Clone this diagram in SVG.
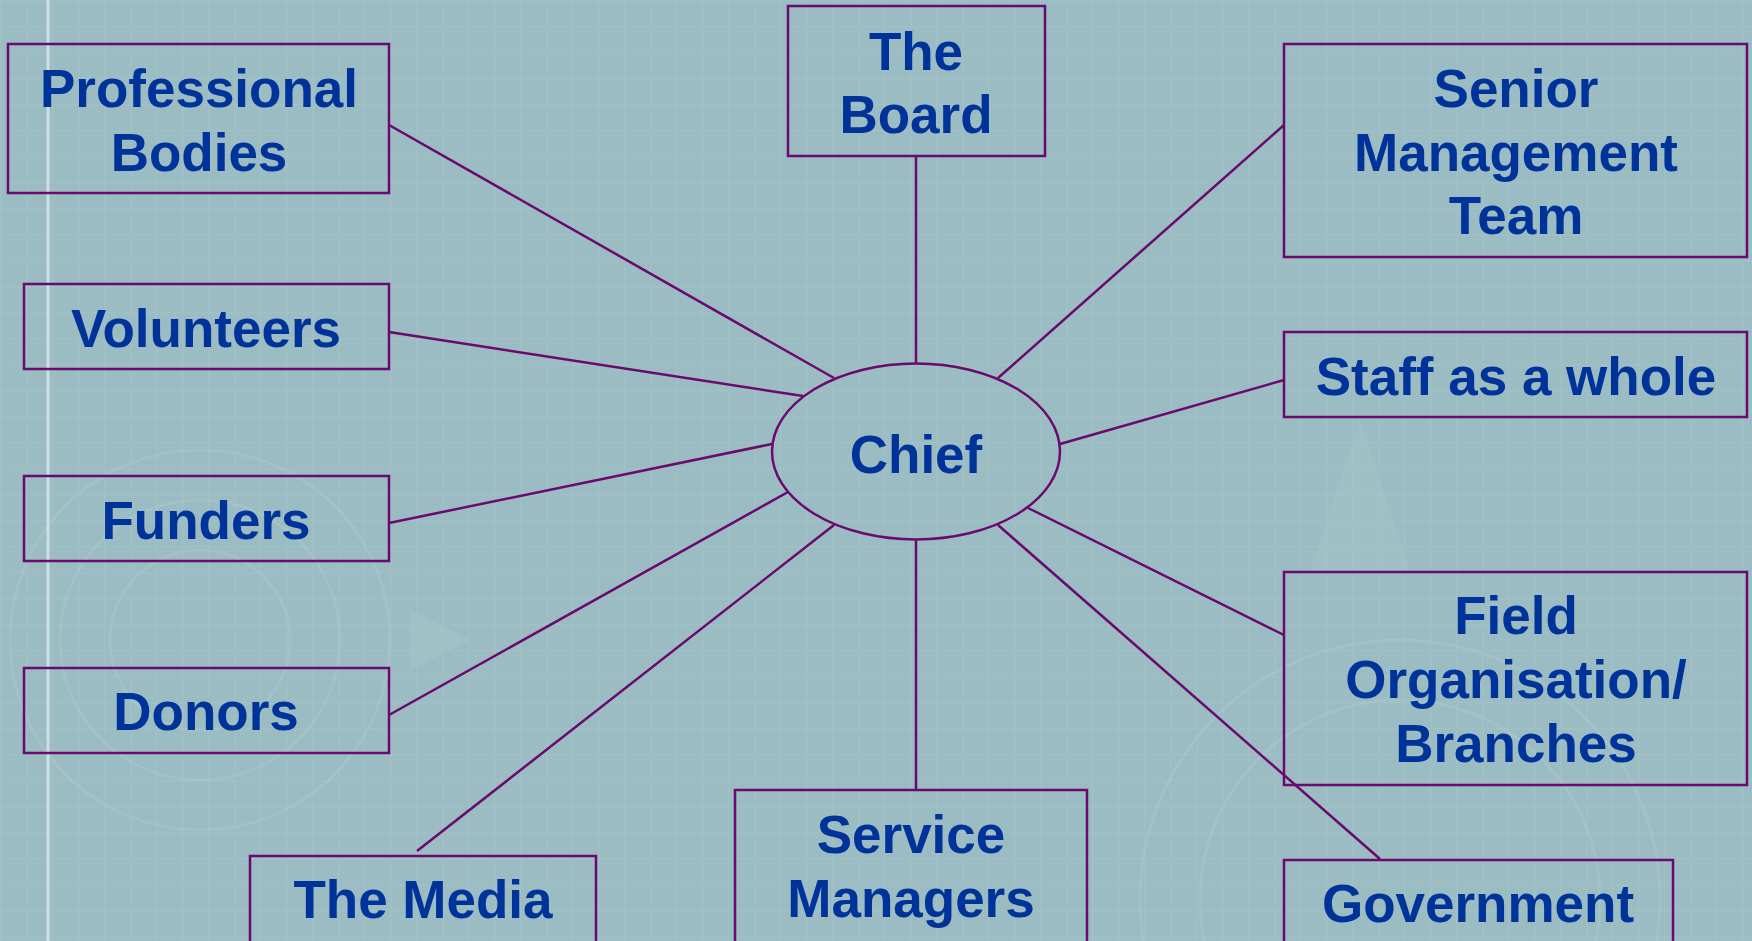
<svg xmlns="http://www.w3.org/2000/svg" width="1752" height="941" viewBox="0 0 1752 941">
<defs>
<pattern id="grid" width="26" height="26" patternUnits="userSpaceOnUse">
<rect width="26" height="26" fill="none"/>
<path d="M0 0.5H26M0.5 0V26" stroke="#b4d0d6" stroke-width="2" opacity="0.2"/>
</pattern>
<style>
.box{fill:none;stroke:#6a0a6e;stroke-width:2.5}
.lnk{stroke:#6a0a6e;stroke-width:2.5;fill:none}
.t{font-family:"Liberation Sans",Arial,sans-serif;font-weight:bold;font-size:53px;fill:#003399;text-anchor:middle}
.deco{fill:none;stroke:#b2cfd4;stroke-width:3;opacity:0.3}
</style>
</defs>
<rect width="1752" height="941" fill="#9bbcc2"/>
<rect width="1752" height="941" fill="url(#grid)"/>
<g id="background-decoration">
<circle class="deco" cx="200" cy="640" r="190"/>
<circle class="deco" cx="200" cy="640" r="140"/>
<circle class="deco" cx="200" cy="640" r="90"/>
<circle class="deco" cx="1400" cy="900" r="260"/>
<circle class="deco" cx="1400" cy="900" r="200"/>
<polygon points="1360,420 1410,570 1310,570" fill="#a7c6cc" opacity="0.4"/>
<polygon points="410,610 470,640 410,670" fill="#a9c8ce" opacity="0.4"/>
<line x1="48" y1="0" x2="48" y2="941" stroke="#dbeaec" stroke-width="3" opacity="0.8"/>
</g>
<g id="connectors">
<line class="lnk" x1="916" y1="156" x2="916" y2="363"/>
<line class="lnk" x1="916" y1="540" x2="916" y2="790"/>
<line class="lnk" x1="389" y1="125" x2="834" y2="378"/>
<line class="lnk" x1="389" y1="332" x2="803" y2="396"/>
<line class="lnk" x1="389" y1="523" x2="772" y2="444"/>
<line class="lnk" x1="389" y1="715" x2="788" y2="492"/>
<line class="lnk" x1="417" y1="851" x2="834" y2="525"/>
<line class="lnk" x1="1284" y1="125" x2="998" y2="378"/>
<line class="lnk" x1="1284" y1="380" x2="1060" y2="444"/>
<line class="lnk" x1="1284" y1="635" x2="1028" y2="508"/>
<line class="lnk" x1="1380" y1="859" x2="998" y2="525"/>
</g>
<g id="chief">
<ellipse class="box" cx="916" cy="451.5" rx="144" ry="88"/>
<text class="t" x="916" y="473">Chief</text>
</g>
<g id="professional-bodies">
<rect class="box" x="8" y="44" width="381" height="149"/>
<text class="t" x="199" y="107">Professional</text>
<text class="t" x="199" y="171">Bodies</text>
</g>
<g id="volunteers">
<rect class="box" x="24" y="284" width="365" height="85"/>
<text class="t" x="206" y="347">Volunteers</text>
</g>
<g id="funders">
<rect class="box" x="24" y="476" width="365" height="85"/>
<text class="t" x="206" y="539">Funders</text>
</g>
<g id="donors">
<rect class="box" x="24" y="668" width="365" height="85"/>
<text class="t" x="206" y="730">Donors</text>
</g>
<g id="the-media">
<rect class="box" x="250" y="856" width="346" height="100"/>
<text class="t" x="423" y="918">The Media</text>
</g>
<g id="the-board">
<rect class="box" x="788" y="6" width="257" height="150"/>
<text class="t" x="916" y="70">The</text>
<text class="t" x="916" y="133">Board</text>
</g>
<g id="service-managers">
<rect class="box" x="735" y="790" width="352" height="160"/>
<text class="t" x="911" y="853">Service</text>
<text class="t" x="911" y="917">Managers</text>
</g>
<g id="senior-management-team">
<rect class="box" x="1284" y="44" width="463" height="213"/>
<text class="t" x="1516" y="107">Senior</text>
<text class="t" x="1516" y="171">Management</text>
<text class="t" x="1516" y="234">Team</text>
</g>
<g id="staff-as-a-whole">
<rect class="box" x="1284" y="332" width="463" height="85"/>
<text class="t" x="1516" y="395">Staff as a whole</text>
</g>
<g id="field-organisation">
<rect class="box" x="1284" y="572" width="463" height="213"/>
<text class="t" x="1516" y="634">Field</text>
<text class="t" x="1516" y="698">Organisation/</text>
<text class="t" x="1516" y="762">Branches</text>
</g>
<g id="government">
<rect class="box" x="1284" y="860" width="389" height="100"/>
<text class="t" x="1478" y="922">Government</text>
</g>
</svg>
